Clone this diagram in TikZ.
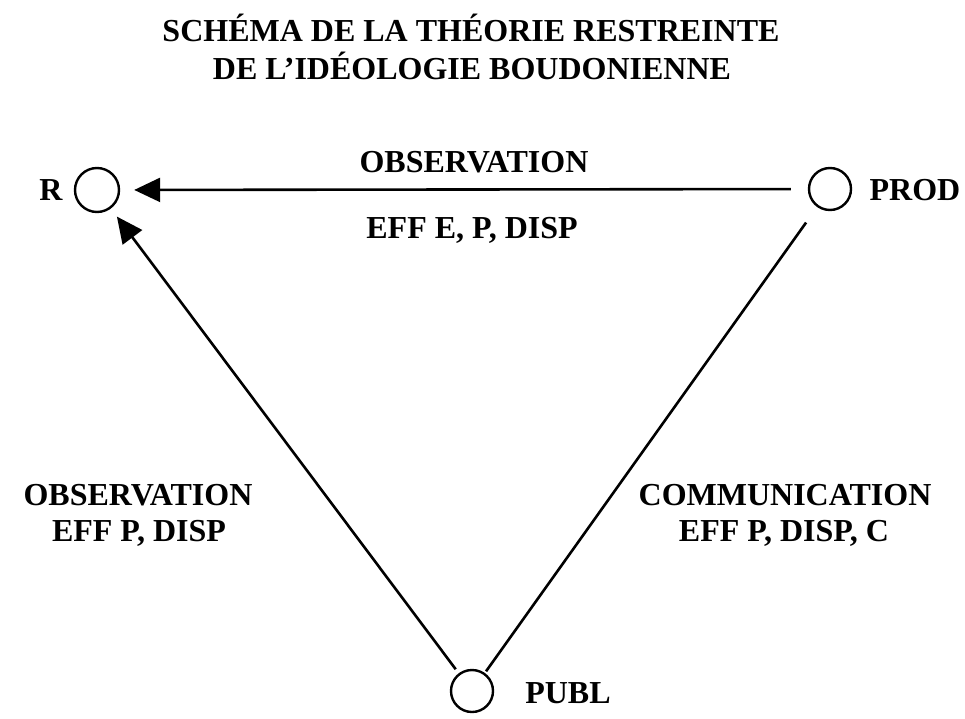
\documentclass[tikz,border=0pt]{standalone}
\usepackage{fontspec}
\setmainfont{Liberation Serif}
\usetikzlibrary{arrows.meta}
\begin{document}
\begin{tikzpicture}[x=1pt,y=-1pt,
  lbl/.style={font=\fontsize{32}{34}\selectfont\bfseries, inner sep=0pt, anchor=center},
  pt/.style={circle, draw, line width=2.4pt, minimum size=44pt, inner sep=0pt},
  conn/.style={line width=2.6pt},
  tip/.style={-{Triangle[length=26pt,width=24pt]}}]
\useasboundingbox (0,0) rectangle (965,719);
\node[lbl] (t1) at (471,28) {SCHÉMA DE LA THÉORIE RESTREINTE};
\node[lbl] (t2) at (472,66) {DE L’IDÉOLOGIE BOUDONIENNE};
\node[pt] (r) at (97,190) {};
\node[pt, minimum size=42pt] (prod) at (830,189) {};
\node[pt, minimum size=42pt] (publ) at (472,691) {};
\node[lbl] (rl) at (51,190) {R};
\node[lbl] (prodl) at (915,190) {PROD};
\node[lbl] (publl) at (568,693) {PUBL};
\node[lbl] (o1) at (474,162) {OBSERVATION};
\node[lbl] (e1) at (472,230) {EFF E, P, DISP};
\node[lbl] (o2) at (138,495) {OBSERVATION};
\node[lbl] (e2) at (139,533) {EFF P, DISP};
\node[lbl] (c3) at (785,495) {COMMUNICATION};
\node[lbl] (e3) at (784,533) {EFF P, DISP, C};
\draw[conn, tip, shorten >=14pt, shorten <=17pt] (prod) -- (r);
\draw[conn, tip, shorten >=10pt, shorten <=5pt] (publ) -- (r);
\draw[conn, shorten >=19pt, shorten <=2pt] (publ) -- (prod);
\end{tikzpicture}
\end{document}
